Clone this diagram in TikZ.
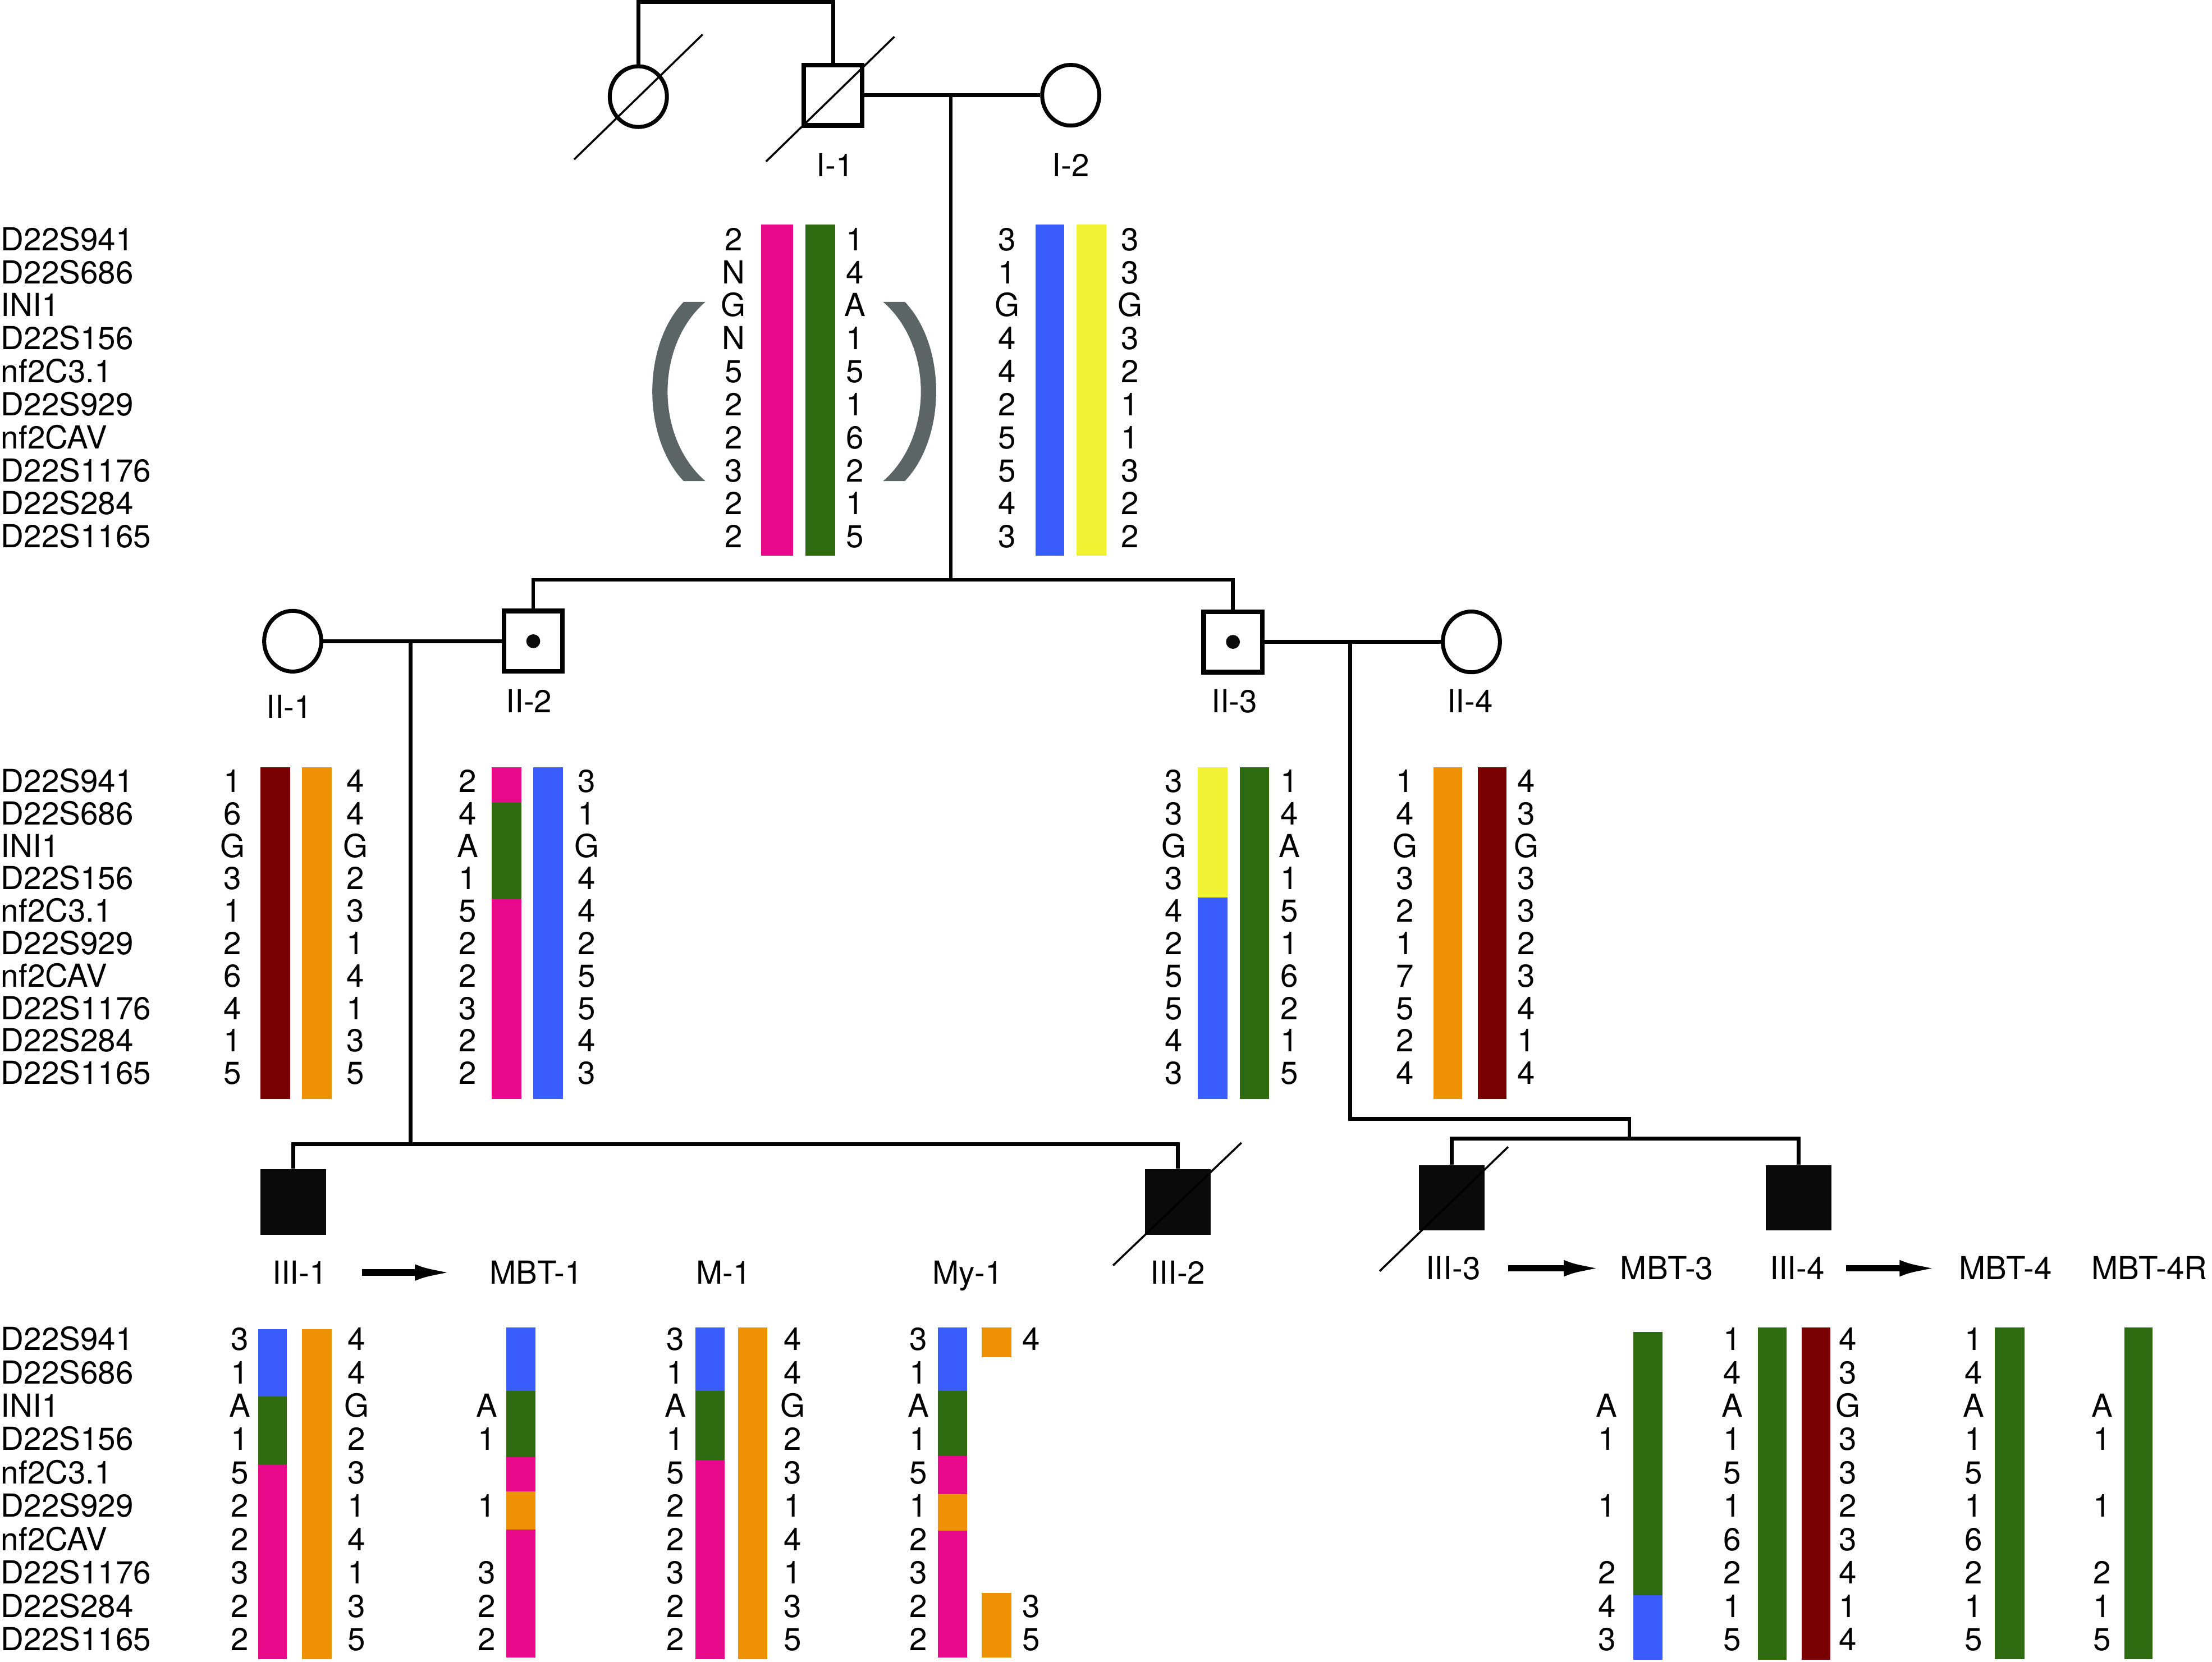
\documentclass[tikz,border=0pt]{standalone}
\usepackage{fontspec}
\setmainfont{TeX Gyre Heros}
\usetikzlibrary{shapes.geometric,arrows.meta}

\definecolor{hpink}{HTML}{E8088A}
\definecolor{hgreen}{HTML}{2D6A10}
\definecolor{hblue}{HTML}{3A5CFC}
\definecolor{hyellow}{HTML}{F2F234}
\definecolor{hred}{HTML}{780000}
\definecolor{horange}{HTML}{EE9105}
\definecolor{hgray}{HTML}{5B6565}
\definecolor{hblack}{HTML}{0A0A0A}

\newcommand{\markerlist}{D22S941,D22S686,INI1,D22S156,nf2C3.1,D22S929,nf2CAV,D22S1176,D22S284,D22S1165}

\begin{document}
\begin{tikzpicture}[x=0.025cm, y=-0.025cm,
    font=\fontsize{16pt}{18pt}\selectfont,
    lbl/.style={inner sep=0pt, text height=11.5pt, text depth=0pt},
    male/.style={draw, line width=2.35pt, rectangle, minimum width=29.5pt, minimum height=30.5pt, inner sep=0pt},
    female/.style={draw, line width=2pt, ellipse, minimum width=28.8pt, minimum height=30.6pt, inner sep=0pt},
    affected/.style={rectangle, fill=hblack, minimum width=33pt, minimum height=33pt, inner sep=0pt},
    carrier/.style={circle, fill=hblack, minimum size=7pt, inner sep=0pt},
    link/.style={line width=1.9pt},
    dead/.style={line width=1pt},
    pfeil/.style={line width=3.3pt, -{Latex[length=21pt,width=8pt]}},
    paren/.style={fill=hgray}]
    \useasboundingbox (0,0) rectangle (1568,1178);

    % Generation I
    \node[female] (anc) at (452.5,68.5) {};
    \node[male] (i1) at (590.5,67.5) {};
    \node[female] (i2) at (759,67.5) {};
    \coordinate (top) at (520,1.4);
    \coordinate (m1) at (674,67.5);
    \coordinate (s1) at (674,411);
    \draw[link] (anc) |- (top) -| (i1);
    \draw[link] (i1) -- (i2);
    \draw[link] (m1) -- (s1);
    \draw[dead] ([shift={(-45.5,44.5)}]anc.center) -- ([shift={(45.5,-44)}]anc.center);
    \draw[dead] ([shift={(-47.5,47)}]i1.center) -- ([shift={(43.5,-41.5)}]i1.center);
    \node[lbl] (l-i1) at (592,117) {I-1};
    \node[lbl] (l-i2) at (759,117) {I-2};

    % Generation II
    \node[female] (ii1) at (207.5,454.5) {};
    \node[male] (ii2) at (378,454.5) {};
    \node[male] (ii3) at (874,455) {};
    \node[female] (ii4) at (1043,455) {};
    \node[carrier] (d2) at (ii2) {};
    \node[carrier] (d3) at (ii3) {};
    \draw[link] (ii2) |- (s1) -| (ii3);
    \draw[link] (ii1) -- (ii2);
    \draw[link] (ii3) -- (ii4);
    \coordinate (m2) at (291,454.5);
    \coordinate (s2) at (291,811);
    \coordinate (m3) at (957,455);
    \coordinate (k3) at (957,793);
    \coordinate (s3) at (1155,807);
    \draw[link] (m2) -- (s2);
    \draw[link] (m3) -- (k3) -| (s3);
    \node[lbl] (l-ii1) at (205,501) {II-1};
    \node[lbl] (l-ii2) at (375,497) {II-2};
    \node[lbl] (l-ii3) at (875,497) {II-3};
    \node[lbl] (l-ii4) at (1042,497) {II-4};

    % Generation III
    \node[affected] (iii1) at (208,852) {};
    \node[affected] (iii2) at (835,852) {};
    \node[affected] (iii3) at (1029,849) {};
    \node[affected] (iii4) at (1275,849) {};
    \draw[link] (iii1) |- (s2) -| (iii2);
    \draw[link] (iii3) |- (s3) -| (iii4);
    \draw[dead] ([shift={(-46,45)}]iii2.center) -- ([shift={(45,-42)}]iii2.center);
    \draw[dead] ([shift={(-51,52)}]iii3.center) -- ([shift={(40,-36)}]iii3.center);
    \node[lbl] (l-iii1) at (212.5,902) {III-1};
    \node[lbl] (l-mbt1) at (380,902) {MBT-1};
    \node[lbl] (l-m1) at (513,902) {M-1};
    \node[lbl] (l-my1) at (686,902) {My-1};
    \node[lbl] (l-iii2) at (835,902) {III-2};
    \node[lbl] (l-iii3) at (1030,899) {III-3};
    \node[lbl] (l-mbt3) at (1181.5,899) {MBT-3};
    \node[lbl] (l-iii4) at (1274,899) {III-4};
    \node[lbl] (l-mbt4) at (1421.5,899) {MBT-4};
    \node[lbl] (l-mbt4r) at (1523.5,899) {MBT-4R};
    \draw[pfeil, shorten <=17.5pt, shorten >=16.5pt] (l-iii1) -- (l-mbt1);
    \draw[pfeil, shorten <=13.9pt, shorten >=7.3pt] (l-iii3) -- (l-mbt3);
    \draw[pfeil, shorten <=10.7pt, shorten >=8.7pt] (l-iii4) -- (l-mbt4);

    % Marker names
    \foreach \yo/\dy [count=\g] in {169.5/23.4, 553.5/23.0, 949/23.65}
        \foreach \m [count=\i from 0] in \markerlist
            \node[lbl, anchor=west] (mk-\g-\i) at (0.5,{\yo+\dy*\i}) {\m};

    % Haplotype bars
    \foreach \xa/\xb/\ya/\yb/\c in {
        539.5/562/159/394/hpink, 571/592/159/394/hgreen,
        734/754.5/159/394/hblue, 763/784/159/394/hyellow,
        184.5/205.5/544/779/hred, 214/235/544/779/horange,
        348.5/369.5/544/569/hpink, 348.5/369.5/569/637/hgreen, 348.5/369.5/637/779/hpink,
        378/399/544/779/hblue,
        849/870/544/636/hyellow, 849/870/636/779/hblue, 879/899.5/544/779/hgreen,
        1016/1036.5/544/779/horange, 1047.5/1068/544/779/hred,
        183/203.5/942/990/hblue, 183/203.5/990/1038/hgreen, 183/203.5/1038/1176/hpink,
        214/235/942/1176/horange,
        359/379.5/941/986/hblue, 359/379.5/986/1033/hgreen, 359/379.5/1033/1057/hpink,
        359/379.5/1057/1084/horange, 359/379.5/1084/1175/hpink,
        493/513.5/941/986/hblue, 493/513.5/986/1035/hgreen, 493/513.5/1035/1176/hpink,
        523/544/941/1176/horange,
        665/685.5/941/986/hblue, 665/685.5/986/1032/hgreen, 665/685.5/1032/1059/hpink,
        665/685.5/1059/1085/horange, 665/685.5/1085/1175/hpink,
        696/717/941/962/horange, 696/717/1129/1175/horange,
        1157.7/1178.5/944/1130.6/hgreen, 1157.7/1178.5/1130.6/1176.5/hblue,
        1246/1266.6/941/1176.5/hgreen, 1277/1297.6/941/1176.5/hred,
        1414/1435/941/1176/hgreen, 1506/1526/941/1176/hgreen}
        \fill[\c] (\xa,\ya) rectangle (\xb,\yb);

    % Brackets round I-1
    \fill[paren] (484.6,214) .. controls (455,245) and (455,310) .. (484.6,341)
        -- (500,341) .. controls (464.3,310) and (464.3,245) .. (500,214) -- cycle;
    \fill[paren] (641.4,214) .. controls (671,245) and (671,310) .. (641.4,341)
        -- (626,341) .. controls (661.7,310) and (661.7,245) .. (626,214) -- cycle;

    % Alleles
    \foreach \x/\lst [count=\k] in {520/{2,N,G,N,5,2,2,3,2,2}, 606/{1,4,A,1,5,1,6,2,1,5},
            714/{3,1,G,4,4,2,5,5,4,3}, 801/{3,3,G,3,2,1,1,3,2,2}}
        \foreach \v [count=\i from 0] in \lst
            \node[lbl] (a-\k-\i) at (\x,{169.5+23.4*\i}) {\v};
    \foreach \x/\lst [count=\k] in {165/{1,6,G,3,1,2,6,4,1,5}, 252/{4,4,G,2,3,1,4,1,3,5},
            331.5/{2,4,A,1,5,2,2,3,2,2}, 416/{3,1,G,4,4,2,5,5,4,3},
            832/{3,3,G,3,4,2,5,5,4,3}, 914/{1,4,A,1,5,1,6,2,1,5},
            996/{1,4,G,3,2,1,7,5,2,4}, 1082/{4,3,G,3,3,2,3,4,1,4}}
        \foreach \v [count=\i from 0] in \lst
            \node[lbl] (b-\k-\i) at (\x,{553.5+23.0*\i}) {\v};
    \foreach \x/\lst [count=\k] in {170/{3,1,A,1,5,2,2,3,2,2}, 252.7/{4,4,G,2,3,1,4,1,3,5},
            478.6/{3,1,A,1,5,2,2,3,2,2}, 562/{4,4,G,2,3,1,4,1,3,5},
            651/{3,1,A,1,5,1,2,3,2,2}, 1228/{1,4,A,1,5,1,6,2,1,5},
            1310/{4,3,G,3,3,2,3,4,1,4}, 1399/{1,4,A,1,5,1,6,2,1,5}}
        \foreach \v [count=\i from 0] in \lst
            \node[lbl] (c-\k-\i) at (\x,{949+23.65*\i}) {\v};
    \foreach \x/\r/\v [count=\k] in {345/2/A, 345/3/1, 345/5/1, 345/7/3, 345/8/2, 345/9/2,
            731/0/4, 731/8/3, 731/9/5,
            1139/2/A, 1139/3/1, 1139/5/1, 1139/7/2, 1139/8/4, 1139/9/3,
            1490/2/A, 1490/3/1, 1490/5/1, 1490/7/2, 1490/8/1, 1490/9/5}
        \node[lbl] (p-\k) at (\x,{949+23.65*\r}) {\v};
\end{tikzpicture}
\end{document}
